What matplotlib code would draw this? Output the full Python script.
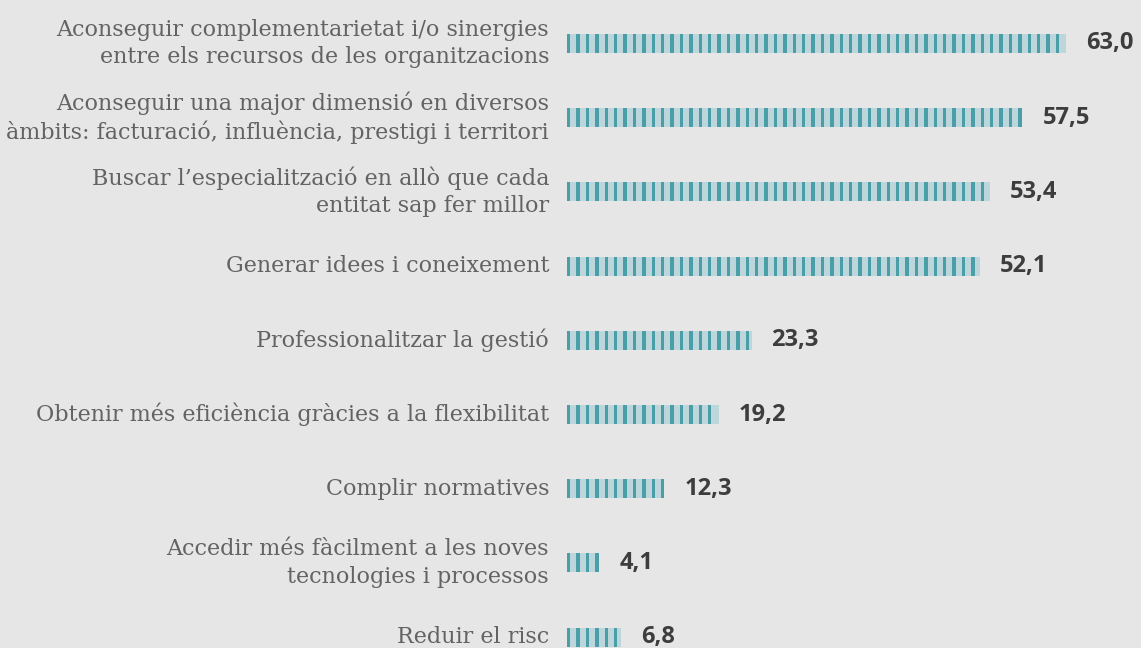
import numpy as np
import matplotlib
matplotlib.use("Agg")
import matplotlib.pyplot as plt

labels = [
    "Aconseguir complementarietat i/o sinergies\nentre els recursos de les organitzacions",
    "Aconseguir una major dimensió en diversos\nàmbits: facturació, influència, prestigi i territori",
    "Buscar l’especialització en allò que cada\nentitat sap fer millor",
    "Generar idees i coneixement",
    "Professionalitzar la gestió",
    "Obtenir més eficiència gràcies a la flexibilitat",
    "Complir normatives",
    "Accedir més fàcilment a les noves\ntecnologies i processos",
    "Reduir el risc",
]
values = [63.0, 57.5, 53.4, 52.1, 23.3, 19.2, 12.3, 4.1, 6.8]

bg = "#e6e6e6"
light = "#bcd6dc"
dark = "#4a9ea8"

fig = plt.figure(figsize=(11.41, 6.48), dpi=100, facecolor=bg)
ax = fig.add_axes([567 / 1141, 0, 1 - 567 / 1141, 1])
ax.set_facecolor(bg)
ax.axis("off")

px = 7.92          # pixels per unit
row = 74.2         # pixels per row
ax.set_xlim(0, 574 / px)
ax.set_ylim((648 - 43.5) / row, -43.5 / row)

bh = 19 / row
period = 9.4 / px
sw = 3.4 / px

for i, (lab, v) in enumerate(zip(labels, values)):
    ax.barh(i, v, height=bh, color=light, align="center")
    xs = np.arange(0, v - sw * 0.5, period)
    ax.barh([i] * len(xs), sw, left=xs, height=bh, color=dark, align="center")
    ax.text(-18 / px, i, lab, ha="right", va="center", fontsize=16,
            family="DejaVu Serif", color="#636363", linespacing=1.33)
    ax.annotate(f"{v:.1f}".replace(".", ","), (v, i), xytext=(14.4, 0),
                textcoords="offset points", ha="left", va="center",
                fontsize=17, fontweight="bold", family="Open Sans", color="#3d3d3d")

fig.savefig("out.png", dpi=100, facecolor=bg)
